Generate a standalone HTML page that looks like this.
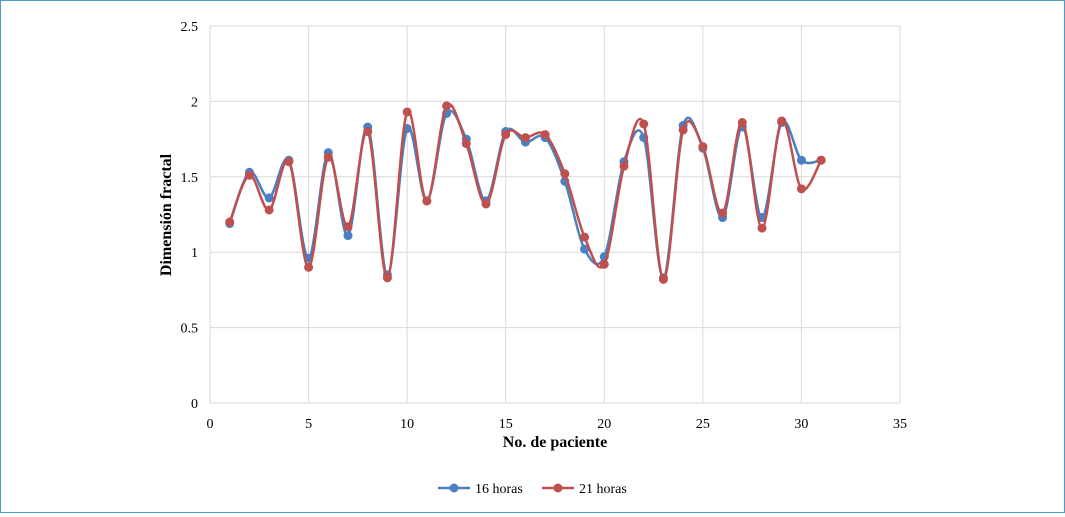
<!DOCTYPE html>
<html><head><meta charset="utf-8"><style>
body{margin:0;background:#fff}
#wrap{width:1063px;height:511px;border:1px solid #4a9bd1;position:relative;background:#fff}
svg text{font-family:"Liberation Serif",serif;fill:#000}
</style></head><body>
<div id="wrap">
<svg id="chart" width="1063" height="511"></svg>
</div>
<script>
const categories=[1,2,3,4,5,6,7,8,9,10,11,12,13,14,15,16,17,18,19,20,21,22,23,24,25,26,27,28,29,30,31];
const series16=[1.19,1.53,1.36,1.61,0.96,1.66,1.11,1.83,0.85,1.82,1.34,1.92,1.75,1.34,1.80,1.73,1.76,1.47,1.02,0.97,1.60,1.76,0.83,1.84,1.69,1.23,1.83,1.23,1.86,1.61,1.61];
const series21=[1.20,1.51,1.28,1.60,0.90,1.63,1.17,1.80,0.83,1.93,1.34,1.97,1.72,1.32,1.78,1.76,1.78,1.52,1.10,0.92,1.57,1.85,0.82,1.81,1.70,1.26,1.86,1.16,1.87,1.42,1.61];
const xTicks=[0,5,10,15,20,25,30,35];
const yTicks=[0,0.5,1,1.5,2,2.5];
const yLabels=["0","0.5","1","1.5","2","2.5"];
const NS="http://www.w3.org/2000/svg";
const svg=document.getElementById('chart');
const X0=209,X1=899,Y0=402,Y1=25;
const xs=v=>X0+(v-0)/35*(X1-X0);
const ys=v=>Y0-(v/2.5)*(Y0-Y1);
function mk(t,a,p){const e=document.createElementNS(NS,t);for(const k in a)e.setAttribute(k,a[k]);(p||svg).appendChild(e);return e;}
xTicks.forEach((t,i)=>{
 const l=mk('line',{x1:xs(t),x2:xs(t),y1:Y1,y2:Y0,stroke:'#d9d9d9','stroke-width':1});
 
 
 const tx=mk('text',{x:xs(t),y:Y0+25,'text-anchor':'middle','font-size':14});
 tx.textContent=t;
 
 
});
yTicks.forEach((t,i)=>{
 const l=mk('line',{x1:X0,x2:X1,y1:ys(t),y2:ys(t),stroke:'#d9d9d9','stroke-width':1});
 
 
 const tx=mk('text',{x:X0-12,y:ys(t)+5,'text-anchor':'end','font-size':14});
 tx.textContent=yLabels[i];
 
 
});
function smooth(vals){
 const p=vals.map((v,i)=>[xs(categories[i]),ys(v)]);
 let d='M'+p[0][0]+','+p[0][1];
 for(let i=0;i<p.length-1;i++){
  const p0=p[i-1]||p[i],p1=p[i],p2=p[i+1],p3=p[i+2]||p[i+1];
  const c1=[p1[0]+(p2[0]-p0[0])/6,p1[1]+(p2[1]-p0[1])/6];
  const c2=[p2[0]-(p3[0]-p1[0])/6,p2[1]-(p3[1]-p1[1])/6];
  d+=' C'+c1+' '+c2+' '+p2;
 }
 return d;
}
function drawSeries(vals,color,name){
 const g=mk('g',{});
 
 
 const path=mk('path',{d:smooth(vals),fill:'none',stroke:color,'stroke-width':2.5},g);
 
 
 vals.forEach((v,i)=>{
  const c=mk('circle',{cx:xs(categories[i]),cy:ys(v),r:4.5,fill:color},g);
  
  
 });
}
drawSeries(series16,'#4a7fc1','series-16-horas');
drawSeries(series21,'#c0504d','series-21-horas');
let t=mk('text',{x:(X0+X1)/2,y:446,'text-anchor':'middle','font-size':16,'font-weight':'bold'});
t.textContent='No. de paciente';


t=mk('text',{x:0,y:0,'text-anchor':'middle','font-size':16,'font-weight':'bold',transform:'translate(170,214) rotate(-90)'});
t.textContent='Dimensión fractal';


[[437,'#4a7fc1','16 horas'],[541,'#c0504d','21 horas']].forEach(([x,c,lab])=>{
 const g=mk('g',{});
 
 
 mk('line',{x1:x,x2:x+32,y1:487,y2:487,stroke:c,'stroke-width':2.5},g);
 mk('circle',{cx:x+16,cy:487,r:4.5,fill:c},g);
 const tx=mk('text',{x:x+37,y:492,'font-size':14},g);
 tx.textContent=lab;
});
</script>
</body></html>
